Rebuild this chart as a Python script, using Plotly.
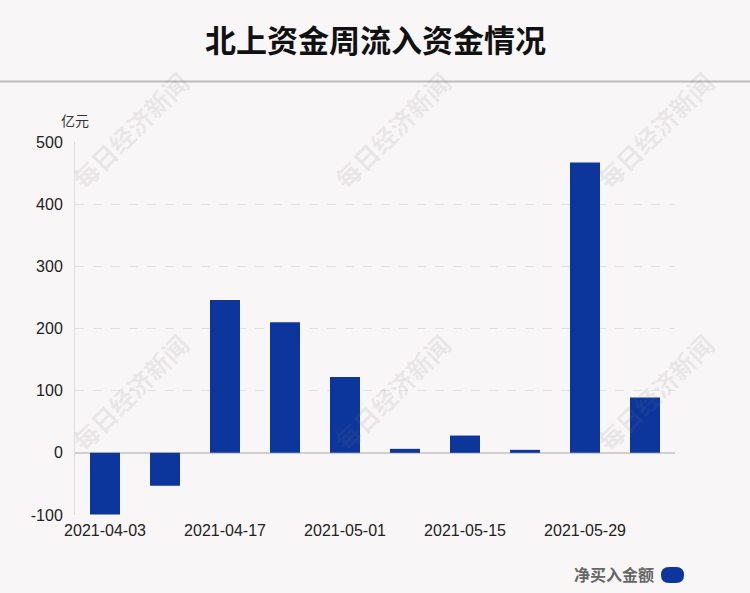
import plotly.graph_objects as go

dates = ["2021-04-03", "2021-04-10", "2021-04-17", "2021-04-24", "2021-05-01",
         "2021-05-08", "2021-05-15", "2021-05-22", "2021-05-29", "2021-06-05"]
net_buy = [-99, -53, 246, 210, 122, 6.4, 27.8, 4.8, 467, 89]
tick_labels = ["2021-04-03", "2021-04-17", "2021-05-01", "2021-05-15", "2021-05-29"]
y_ticks = [-100, 0, 100, 200, 300, 400, 500]
y_tick_text = ["-100", "0", "100", "200", "300", "400", "500"]

BG = "#f9f6f7"
BLUE = "#0c369c"
W, H = 750, 593
ML, MR, MT, MB = 75, 75, 142, 78
PW, PH = W - ML - MR, H - MT - MB


def px(x):
    return (x - ML) / PW


def py(y):
    return (H - MB - y) / PH


fig = go.Figure()
fig.add_trace(go.Bar(x=dates, y=net_buy, marker=dict(color=BLUE, line=dict(width=0)),
                     width=0.5, name="净买入金额", showlegend=False))

annotations = [
    dict(text="<b>北上资金周流入资金情况</b>", x=px(375), y=py(38), xref="paper", yref="paper",
         showarrow=False, font=dict(size=31, color="#111", family="Noto Sans CJK SC"),
         xanchor="center", yanchor="middle"),
    dict(text="亿元", x=px(75), y=py(120), xref="paper", yref="paper", showarrow=False,
         font=dict(size=14, color="#333", family="Noto Sans CJK SC"), xanchor="center", yanchor="middle"),
    dict(text="<b>净买入金额</b>", x=px(656), y=py(574), xref="paper", yref="paper",
         showarrow=False, font=dict(size=16, color="#666", family="Noto Sans CJK SC"),
         xanchor="right", yanchor="middle"),
]
for cx in (130, 392, 655):
    for cy in (130, 392):
        annotations.append(dict(text="<b>每日经济新闻</b>", x=px(cx), y=py(cy), xref="paper",
                                yref="paper", showarrow=False, textangle=-45,
                                font=dict(size=25, color="rgba(120,120,120,0.12)",
                                          family="Noto Sans CJK SC"),
                                xanchor="center", yanchor="middle"))

# pill legend marker
x0, x1, yc, r = 661, 684, 575, 8
path = (f"M {px(x0 + r)},{py(yc - r)} L {px(x1 - r)},{py(yc - r)} "
        f"Q {px(x1)},{py(yc - r)} {px(x1)},{py(yc)} Q {px(x1)},{py(yc + r)} {px(x1 - r)},{py(yc + r)} "
        f"L {px(x0 + r)},{py(yc + r)} Q {px(x0)},{py(yc + r)} {px(x0)},{py(yc)} "
        f"Q {px(x0)},{py(yc - r)} {px(x0 + r)},{py(yc - r)} Z")
shapes = [
    dict(type="line", xref="paper", yref="paper", x0=px(0), x1=px(W), y0=py(81.5), y1=py(81.5),
         line=dict(color="#bdbdbd", width=2)),
    dict(type="path", xref="paper", yref="paper", path=path, fillcolor=BLUE, line=dict(width=0)),
]

fig.update_layout(
    width=W, height=H,
    paper_bgcolor=BG, plot_bgcolor=BG,
    margin=dict(l=ML, r=MR, t=MT, b=MB),
    font=dict(family="Liberation Sans, Arial, sans-serif", size=16, color="#222"),
    annotations=annotations, shapes=shapes,
    bargap=0.5,
    xaxis=dict(type="category", tickmode="array", tickvals=tick_labels, ticktext=tick_labels,
               showgrid=False, showline=False, zeroline=False, ticks="",
               ticklabelstandoff=4, tickfont=dict(size=16, color="#222")),
    yaxis=dict(range=[-100, 500], tickvals=y_ticks, ticktext=y_tick_text, showgrid=True,
               griddash="dash", gridcolor="#e2e0e1", gridwidth=1, zeroline=True,
               zerolinecolor="#cfcfcf", zerolinewidth=2, showline=True, linecolor="#dddddd",
               linewidth=1, ticks="", ticklabelstandoff=8, tickfont=dict(size=16, color="#222")),
)

fig.write_html("out.html", config={"displayModeBar": False},
               post_script="document.body.style.margin='0';document.body.style.overflow='hidden';")
